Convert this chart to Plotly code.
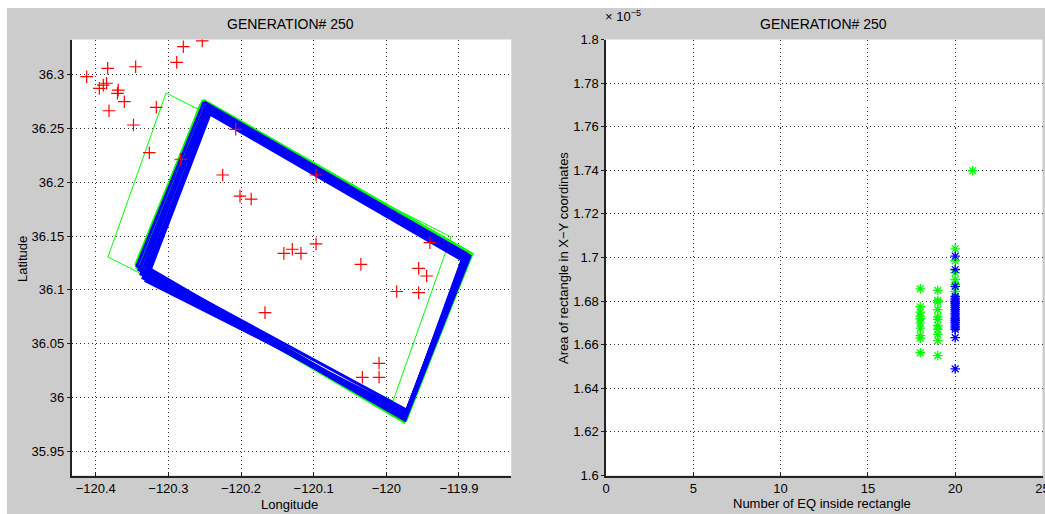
import plotly.graph_objects as go

W, H = 1045, 514
FONT = "Liberation Sans, Arial, sans-serif"

# ---------------- data: left panel (map) ----------------
quake_lon = [-120.4124, -120.3835, -120.3950, -120.3895, -120.3850, -120.3690, -120.3700,
             -120.3606, -120.3817, -120.3450, -120.3480, -120.3166, -120.3262, -120.2885,
             -120.2794, -120.2533, -120.2830, -120.2073, -120.2252, -120.2014, -120.1860,
             -120.0967, -120.0967, -119.9400, -120.1410, -120.1294, -120.1175, -120.0350,
             -119.9555, -120.1670, -119.9445, -119.9857, -119.9555, -120.0100, -120.0330,
             -120.0100]
quake_lat = [36.2978, 36.3056, 36.2870, 36.2900, 36.2917, 36.2854, 36.2824,
             36.2746, 36.2662, 36.3070, 36.2530, 36.2694, 36.2273, 36.3111,
             36.3256, 36.3310, 36.2212, 36.2490, 36.2066, 36.1870, 36.1843,
             36.2066, 36.1426, 36.1438, 36.1339, 36.1377, 36.1339, 36.1237,
             36.1200, 36.0789, 36.1129, 36.0985, 36.0974, 36.0319, 36.0189,
             36.0189]

# population rectangles (green): corners lon / lat
green_rect_lon = [
    [-120.3032, -119.9110, -119.9908, -120.3831],
    [-120.2565, -119.8849, -119.9757, -120.3445],
    [-120.2523, -119.8821, -119.9757, -120.3445],
    [-120.2496, -119.8849, -119.9729, -120.3432],
]
green_rect_lat = [
    [36.2827, 36.1491, 35.9969, 36.1305],
    [36.2724, 36.1352, 35.9784, 36.1222],
    [36.2762, 36.1333, 35.9775, 36.1240],
    [36.2724, 36.1296, 35.9793, 36.1203],
]
green_rect_width = [1, 1, 3, 3]

# best rectangles (blue): corners lon / lat
blue_rect_lon = [
    [-120.2510, -119.8849, -119.9743, -120.3432],
    [-120.2482, -119.8876, -119.9743, -120.3404],
    [-120.2468, -119.8904, -119.9729, -120.3377],
    [-120.2441, -119.8931, -119.9729, -120.3349],
    [-120.2427, -119.8959, -119.9716, -120.3308],
    [-120.2468, -119.8890, -119.9757, -120.3321],
    [-120.2454, -119.8917, -119.9743, -120.3390],
    [-120.2441, -119.8945, -119.9702, -120.3280],
]
blue_rect_lat = [
    [36.2743, 36.1314, 35.9793, 36.1222],
    [36.2715, 36.1324, 35.9812, 36.1185],
    [36.2687, 36.1305, 35.9830, 36.1148],
    [36.2660, 36.1296, 35.9849, 36.1110],
    [36.2632, 36.1277, 35.9867, 36.1083],
    [36.2697, 36.1333, 35.9821, 36.1222],
    [36.2669, 36.1314, 35.9840, 36.1203],
    [36.2641, 36.1287, 35.9877, 36.1185],
]

lon_ticks = [-120.4, -120.3, -120.2, -120.1, -120.0, -119.9]
lon_tick_labels = ["\u2212120.4", "\u2212120.3", "\u2212120.2", "\u2212120.1", "\u2212120", "\u2212119.9"]
lat_ticks = [35.95, 36.0, 36.05, 36.1, 36.15, 36.2, 36.25, 36.3]
lat_tick_labels = ["35.95", "36", "36.05", "36.1", "36.15", "36.2", "36.25", "36.3"]

# ---------------- data: right panel (fitness) ----------------
# area values in units of 1e-5
green_count = [18, 18, 18, 18, 18, 18, 18, 18, 18, 18,
               19, 19, 19, 19, 19, 19, 19, 19, 19, 19, 19,
               20, 20, 20, 20, 20, 20,
               21]
green_area = [1.6856, 1.6774, 1.6749, 1.6731, 1.6719, 1.6699, 1.6676, 1.6642, 1.6630, 1.6563,
              1.6849, 1.6803, 1.6795, 1.6761, 1.6728, 1.6716, 1.6688, 1.6670, 1.6647, 1.6619, 1.6550,
              1.7040, 1.6985, 1.6930, 1.6899, 1.6876, 1.6845,
              1.7398]
blue_count = [20, 20, 20, 20, 20, 20, 20, 20, 20, 20, 20, 20,
              20, 20, 20, 20, 20, 20, 20, 20, 20, 20, 20, 20]
blue_area = [1.7006, 1.6945, 1.6868, 1.6822, 1.6814, 1.6806, 1.6797, 1.6789, 1.6780, 1.6771,
             1.6762, 1.6754, 1.6745, 1.6737, 1.6728, 1.6719, 1.6711, 1.6702, 1.6694, 1.6685,
             1.6677, 1.6670, 1.6632, 1.6489]

count_ticks = [0, 5, 10, 15, 20, 25]
area_ticks = [1.6, 1.62, 1.64, 1.66, 1.68, 1.7, 1.72, 1.74, 1.76, 1.78, 1.8]
area_tick_labels = ["1.6", "1.62", "1.64", "1.66", "1.68", "1.7", "1.72", "1.74", "1.76", "1.78", "1.8"]


def fx(px):
    return px / W


def fy(py):
    return 1 - py / H


# ---------------- figure ----------------
fig = go.Figure()

for lons, lats, wd in zip(green_rect_lon, green_rect_lat, green_rect_width):
    fig.add_trace(go.Scatter(x=lons + lons[:1], y=lats + lats[:1], mode="lines",
                             line=dict(color="#00ff00", width=wd), xaxis="x", yaxis="y",
                             hoverinfo="skip"))
for lons, lats in zip(blue_rect_lon, blue_rect_lat):
    fig.add_trace(go.Scatter(x=lons + lons[:1], y=lats + lats[:1], mode="lines",
                             line=dict(color="#0000ff", width=3), xaxis="x", yaxis="y",
                             hoverinfo="skip"))
fig.add_trace(go.Scatter(x=quake_lon, y=quake_lat, mode="markers",
                         marker=dict(symbol="cross-thin-open", size=9, color="#ff0000",
                                     line=dict(color="#ff0000", width=1.2)),
                         xaxis="x", yaxis="y"))

fig.add_trace(go.Scatter(x=green_count, y=green_area, mode="markers",
                         marker=dict(symbol="asterisk-open", size=8, color="#00ff00",
                                     line=dict(color="#00ff00", width=1.3)),
                         xaxis="x2", yaxis="y2"))
fig.add_trace(go.Scatter(x=blue_count, y=blue_area, mode="markers",
                         marker=dict(symbol="asterisk-open", size=8, color="#0000ff",
                                     line=dict(color="#0000ff", width=1.3)),
                         xaxis="x2", yaxis="y2"))

ydom = [fy(475.5), fy(39.5)]
grid = dict(showgrid=True, gridcolor="#333333", griddash="1px,3px", gridwidth=1,
            zeroline=False, showline=True, linecolor="#222222", linewidth=1.5,
            tickcolor="#222222", tickfont=dict(family=FONT, size=13, color="black"),
            tickmode="array", fixedrange=True, automargin=False)

fig.update_layout(
    width=W, height=H, autosize=False,
    margin=dict(l=0, r=0, t=0, b=0, pad=0, autoexpand=False),
    paper_bgcolor="#cccccc", plot_bgcolor="white",
    showlegend=False,
    font=dict(family=FONT, size=13, color="black"),
    xaxis=dict(domain=[fx(71.5), fx(511.3)], range=[-120.4333, -119.828], anchor="y",
               tickvals=lon_ticks, ticktext=lon_tick_labels, ticks="inside", ticklen=4, **grid),
    yaxis=dict(domain=ydom, range=[35.9278, 36.3323], anchor="x",
               tickvals=lat_ticks, ticktext=lat_tick_labels, ticks="outside", ticklen=3, **grid),
    xaxis2=dict(domain=[fx(606), fx(1042.5)], range=[0, 25], anchor="y2",
                tickvals=count_ticks, ticktext=[str(v) for v in count_ticks],
                ticks="inside", ticklen=4, ticklabeloverflow="allow", **grid),
    yaxis2=dict(domain=ydom, range=[1.6, 1.8], anchor="x2",
                tickvals=area_ticks, ticktext=area_tick_labels, ticks="outside", ticklen=3, **grid),
    shapes=[
        dict(type="rect", xref="paper", yref="paper", x0=0, x1=fx(7), y0=0, y1=1,
             fillcolor="white", line=dict(width=0), layer="above"),
        dict(type="rect", xref="paper", yref="paper", x0=0, x1=1, y0=fy(8), y1=1,
             fillcolor="white", line=dict(width=0), layer="above"),
    ],
)


def ann(text, xp, yp, size=13, angle=0, xanchor="center"):
    fig.add_annotation(text=text, x=fx(xp), y=fy(yp), xref="paper", yref="paper",
                       showarrow=False, textangle=angle, xanchor=xanchor, yanchor="middle",
                       font=dict(family=FONT, size=size, color="black"))


ann("GENERATION# 250", 290, 24, size=14)
ann("GENERATION# 250", 823, 24, size=14)
ann("Longitude", 289, 504)
ann("Latitude", 22, 259, angle=-90)
ann("Number of EQ inside rectangle", 822, 503)
ann("Area of rectangle in X\u2212Y coordinates", 563, 258, angle=-90)
ann("\u00d7 10<sup>\u22125</sup>", 603, 16, xanchor="left")

fig.write_html("out.html", config={"displayModeBar": False},
               post_script="document.body.style.margin='0';document.body.style.overflow='hidden';")
